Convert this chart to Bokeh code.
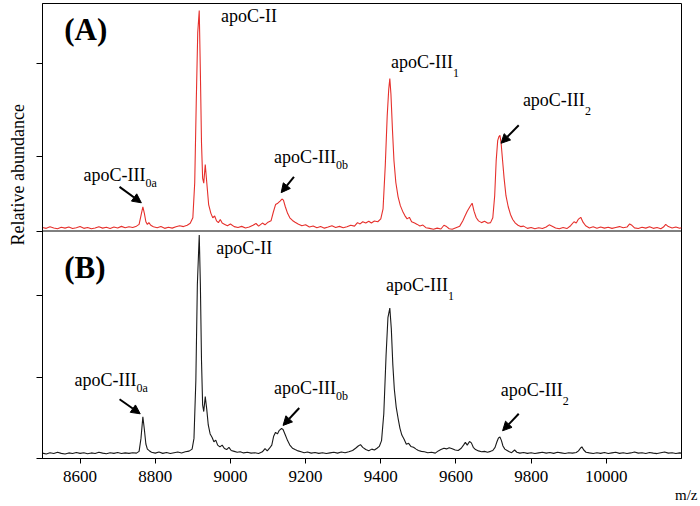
import math
from bokeh.plotting import figure
from bokeh.models import Range1d, FixedTicker, Span, Label, Arrow, NormalHead, Title
from bokeh.embed import file_html
from bokeh.resources import INLINE

# ---------------- data ----------------
# Panel (A): m/z and relative abundance (% of apoC-II peak), red trace
mz_a = [8500, 8510, 8520, 8530, 8540, 8550, 8560, 8570, 8580, 8590,
        8600, 8610, 8620, 8630, 8640, 8650, 8660, 8670, 8680, 8690,
        8700, 8710, 8720, 8730, 8740, 8750, 8757, 8762, 8767, 8771,
        8775, 8779, 8783, 8788, 8795, 8805, 8815, 8825, 8835, 8845,
        8855, 8865, 8875, 8885, 8893, 8900, 8905, 8909, 8913, 8917,
        8920, 8923, 8926, 8929, 8933, 8937, 8942, 8948, 8953, 8958,
        8963, 8968, 8973, 8978, 8985, 8992, 9000, 9010, 9020, 9030,
        9040, 9050, 9060, 9068, 9075, 9085, 9092, 9100, 9108, 9114,
        9120, 9126, 9132, 9137, 9141, 9146, 9152, 9158, 9165, 9172,
        9180, 9190, 9200, 9210, 9220, 9230, 9240, 9250, 9260, 9270,
        9280, 9290, 9300, 9310, 9320, 9330, 9338, 9345, 9352, 9360,
        9368, 9375, 9383, 9392, 9400, 9406, 9412, 9417, 9421, 9424,
        9427, 9431, 9435, 9440, 9446, 9452, 9458, 9464, 9470, 9476,
        9482, 9490, 9497, 9504, 9512, 9520, 9530, 9540, 9550, 9560,
        9568, 9575, 9582, 9590, 9600, 9610, 9618, 9624, 9630, 9637,
        9643, 9648, 9654, 9660, 9668, 9676, 9685, 9692, 9698, 9703,
        9707, 9711, 9714, 9717, 9720, 9724, 9728, 9733, 9739, 9745,
        9751, 9758, 9765, 9772, 9780, 9790, 9800, 9810, 9820, 9830,
        9840, 9848, 9856, 9865, 9875, 9885, 9895, 9905, 9914, 9920,
        9926, 9932, 9938, 9945, 9955, 9965, 9975, 9985, 9995, 10005,
        10015, 10025, 10035, 10045, 10055, 10062, 10068, 10075, 10085, 10095,
        10105, 10115, 10125, 10135, 10145, 10152, 10158, 10165, 10175, 10185,
        10195, 10200]
int_a = [1.6, 1.2, 1.9, 1.4, 1.0, 1.7, 1.3, 1.8, 1.1, 1.5,
         2.0, 1.2, 1.6, 1.0, 1.4, 1.9, 1.3, 1.7, 1.1, 1.8,
         1.4, 2.1, 1.5, 1.9, 1.6, 2.2, 3.0, 7.0, 10.9, 8.0,
         4.2, 3.0, 3.8, 2.6, 1.9, 1.5, 2.0, 1.2, 1.7, 1.3,
         1.9, 2.4, 2.0, 2.6, 3.5, 6.0, 22, 58, 90, 100,
         72, 40, 24, 21.7, 30.2, 22, 12, 8.0, 6.0, 6.8,
         4.6, 3.8, 5.2, 3.6, 3.0, 2.4, 3.2, 2.0, 1.6, 2.1,
         1.4, 1.8, 2.6, 3.4, 2.2, 3.6, 2.8, 4.0, 4.6, 8.5,
         12.0, 12.6, 13.6, 14.5, 14.0, 11.0, 8.0, 6.0, 4.8, 4.0,
         3.2, 2.4, 2.8, 1.8, 2.3, 1.5, 2.0, 1.3, 1.8, 2.4,
         1.6, 2.1, 1.5, 1.9, 2.6, 2.2, 3.8, 3.2, 4.2, 3.6,
         4.4, 3.6, 4.5, 4.2, 5.5, 10, 30, 52, 64, 69.2,
         62, 46, 32, 22, 15.5, 11.5, 9.0, 7.0, 5.5, 6.2,
         4.2, 3.6, 3.0, 2.3, 2.7, 1.5, 1.2, 0.8, 1.3, 0.9,
         2.6, 2.0, 1.0, 0.8, 1.5, 2.2, 4.5, 6.8, 9.0, 11.0,
         12.6, 9.0, 6.0, 4.6, 3.8, 4.4, 3.5, 3.8, 6.0, 16,
         32, 41, 42.7, 43.4, 40, 32, 24, 16, 11, 7.5,
         5.2, 3.6, 2.6, 2.0, 2.2, 1.2, 1.6, 1.0, 1.5, 1.1,
         1.8, 2.8, 2.2, 1.4, 1.0, 1.6, 1.1, 2.4, 4.2, 3.6,
         5.4, 6.2, 4.0, 2.4, 1.4, 1.9, 1.2, 1.8, 1.3, 1.7,
         1.2, 1.6, 2.0, 1.5, 1.8, 3.2, 2.6, 1.4, 1.1, 1.7,
         1.3, 1.9, 1.2, 1.6, 1.0, 1.8, 3.0, 2.0, 1.4, 1.8,
         1.2, 1.5]

# Panel (B): m/z and relative abundance (% of apoC-II peak), black trace
mz_b = [8500, 8510, 8520, 8530, 8540, 8550, 8560, 8570, 8580, 8590,
        8600, 8610, 8620, 8630, 8640, 8650, 8660, 8670, 8680, 8690,
        8700, 8710, 8720, 8730, 8740, 8750, 8757, 8762, 8767, 8771,
        8775, 8779, 8784, 8790, 8800, 8810, 8820, 8830, 8840, 8850,
        8860, 8870, 8880, 8890, 8898, 8903, 8908, 8912, 8917, 8920,
        8923, 8926, 8929, 8933, 8937, 8941, 8946, 8951, 8956, 8961,
        8966, 8972, 8978, 8984, 8990, 8996, 9002, 9010, 9018, 9026,
        9035, 9045, 9055, 9065, 9075, 9085, 9092, 9098, 9104, 9110,
        9115, 9120, 9125, 9130, 9136, 9140, 9146, 9152, 9158, 9165,
        9172, 9180, 9188, 9196, 9205, 9215, 9225, 9235, 9245, 9255,
        9265, 9275, 9285, 9295, 9305, 9315, 9325, 9333, 9340, 9346,
        9352, 9360, 9368, 9376, 9383, 9390, 9396, 9402, 9408, 9414,
        9419, 9424, 9428, 9432, 9436, 9441, 9446, 9451, 9456, 9462,
        9468, 9474, 9480, 9487, 9494, 9500, 9508, 9516, 9525, 9535,
        9545, 9553, 9560, 9568, 9575, 9582, 9590, 9598, 9606, 9614,
        9620, 9625, 9630, 9636, 9641, 9646, 9652, 9660, 9668, 9676,
        9684, 9692, 9698, 9704, 9709, 9713, 9717, 9721, 9725, 9730,
        9736, 9742, 9748, 9756, 9762, 9770, 9780, 9790, 9800, 9810,
        9820, 9830, 9840, 9850, 9860, 9870, 9880, 9890, 9900, 9910,
        9920, 9926, 9931, 9935, 9940, 9946, 9955, 9965, 9975, 9985,
        9995, 10005, 10015, 10025, 10035, 10045, 10055, 10065, 10075, 10085,
        10095, 10105, 10115, 10125, 10135, 10145, 10155, 10165, 10175, 10185,
        10195, 10200]
int_b = [2.4, 2.0, 2.6, 2.2, 2.8, 2.3, 2.0, 2.5, 2.2, 2.7,
         2.3, 2.6, 2.1, 2.5, 2.2, 2.8, 2.4, 2.1, 2.6, 2.3,
         2.7, 2.2, 2.5, 2.3, 2.6, 2.4, 3.2, 9.0, 18.7, 13.0,
         6.5, 4.2, 3.5, 2.8, 2.4, 2.9, 2.3, 2.7, 2.2, 2.6,
         2.9, 2.5, 3.0, 3.3, 4.2, 9.0, 35, 78, 100, 78,
         44, 24, 21, 27.7, 22, 15, 11, 9.5, 7.5, 8.2,
         6.0, 5.2, 6.0, 4.5, 4.0, 5.0, 3.6, 3.2, 2.8, 3.0,
         2.5, 2.8, 2.4, 2.6, 2.2, 3.0, 4.4, 3.4, 4.6, 6.0,
         10.0, 11.7, 11.0, 12.6, 13.4, 13.0, 10.5, 8.0, 6.0, 4.6,
         4.0, 3.4, 3.0, 2.6, 2.9, 2.4, 2.7, 2.3, 2.6, 2.2,
         2.5, 2.8, 2.4, 2.9, 2.6, 3.0, 3.6, 4.6, 5.6, 6.2,
         5.0, 4.0, 3.5, 4.2, 3.8, 4.6, 5.4, 8.0, 20, 46,
         63, 67.3, 58, 42, 31, 23, 18, 13.5, 10.5, 8.6,
         6.4, 6.8, 5.4, 5.0, 4.2, 3.6, 3.2, 3.0, 2.6, 2.8,
         2.4, 3.4, 4.0, 4.6, 4.3, 4.8, 4.4, 3.8, 3.6, 4.6,
         6.0, 7.2, 6.0, 7.6, 7.0, 5.0, 4.0, 3.4, 3.0, 3.2,
         2.8, 3.2, 3.6, 5.0, 7.5, 9.2, 9.6, 8.0, 5.6, 4.2,
         3.6, 3.0, 2.6, 3.8, 2.8, 2.4, 2.7, 2.3, 2.6, 2.2,
         2.5, 2.8, 2.4, 2.7, 2.3, 2.8, 2.5, 2.2, 2.6, 2.4,
         2.7, 3.4, 4.6, 5.2, 3.8, 2.8, 2.5, 2.2, 2.6, 2.3,
         2.7, 2.2, 2.5, 2.8, 2.3, 2.6, 2.2, 2.5, 2.9, 2.4,
         2.6, 2.2, 2.7, 2.4, 2.2, 2.6, 2.9, 2.4, 2.6, 2.2,
         2.5, 2.4]

assert len(mz_a) == len(int_a)
assert len(mz_b) == len(int_b)

x_ticks = [8600, 8800, 9000, 9200, 9400, 9600, 9800, 10000]
x_tick_labels = ["8600", "8800", "9000", "9200", "9400", "9600", "9800", "10000"]
y_ticks_a = [33.9, 76.0]          # tick marks of panel (A), in its own units
y_ticks_b = [0.0, 36.3, 73.1]     # tick marks of panel (B)

panel_names = ["(A)", "(B)"]
peak_base = ["apoC-III", "apoC-II", "apoC-III", "apoC-III", "apoC-III"]
peak_sub = ["0a", "", "0b", "1", "2"]

# ---------------- layout ----------------
X0, X1 = 8500, 10200
TOP_A = 103.2   # full scale of panel (A)
TOP_B = 101.8   # full scale of panel (B)
SERIF = "Liberation Serif"
RED = "#e6302c"

p = figure(width=700, height=506, x_range=Range1d(X0, X1),
           y_range=Range1d(0, 2 * TOP_B),
           output_backend="svg", toolbar_location=None,
           min_border_left=41, min_border_right=19,
           min_border_top=3, min_border_bottom=48)
p.extra_y_ranges = {"top": Range1d(-TOP_A, TOP_A)}

p.grid.visible = False
p.outline_line_color = "black"
p.outline_line_width = 1
p.background_fill_color = "white"
p.border_fill_color = "white"

# x axis
xa = p.xaxis[0]
xa.ticker = FixedTicker(ticks=x_ticks)
xa.major_label_overrides = {t: s for t, s in zip(x_ticks, x_tick_labels)}
xa.major_tick_out = 5
xa.major_tick_in = 0
xa.minor_tick_out = 0
xa.minor_tick_in = 0
xa.axis_line_color = "black"
xa.major_tick_line_color = "black"
xa.major_label_text_font = SERIF
xa.major_label_text_font_size = "17px"
xa.major_label_text_color = "black"
xa.major_label_standoff = 7

# y axis: tick marks only
ya = p.yaxis[0]
ticks_y = list(y_ticks_b) + [TOP_B] + [TOP_B + v * TOP_B / TOP_A for v in y_ticks_a]
ya.ticker = FixedTicker(ticks=ticks_y)
ya.major_label_overrides = {t: "" for t in ticks_y}
ya.major_tick_out = 6
ya.major_tick_in = 0
ya.minor_tick_out = 0
ya.minor_tick_in = 0
ya.major_label_standoff = 0
ya.axis_line_color = "black"
ya.major_tick_line_color = "black"

# y title, starting low in the frame so that it sits mostly beside panel (A)
p.add_layout(Title(text="Relative abundance", align="left", offset=213,
                   vertical_align="top",
                   text_font=SERIF, text_font_size="18px", text_font_style="normal",
                   text_color="black", standoff=14), "left")

# x title at the lower right corner
p.add_layout(Title(text="m/z", align="right", offset=-16, vertical_align="bottom",
                   text_font=SERIF, text_font_size="15px", text_font_style="normal",
                   text_color="black", standoff=0), "below")

# spectra
p.line(mz_a, int_a, y_range_name="top", line_color=RED, line_width=1.1)
p.line(mz_b, int_b, line_color="#1a1a1a", line_width=1.1)

# separator between the panels
p.add_layout(Span(location=TOP_B, dimension="width", line_color="black", line_width=1))

# panel letters
p.add_layout(Label(x=8558, y=83.3, y_range_name="top", text=panel_names[0],
                   text_font=SERIF, text_font_size="31px", text_font_style="bold",
                   text_color="black"))
p.add_layout(Label(x=8558, y=77.6, text=panel_names[1],
                   text_font=SERIF, text_font_size="31px", text_font_style="bold",
                   text_color="black"))

BASE_W = 62  # width in px of "apoC-III" at 18px

def peak_label(i, x, y, rng):
    kw = {} if rng is None else {"y_range_name": rng}
    p.add_layout(Label(x=x, y=y, text=peak_base[i], text_font=SERIF,
                       text_font_size="18px", text_color="black", **kw))
    if peak_sub[i]:
        p.add_layout(Label(x=x, y=y, x_offset=BASE_W, y_offset=-5, text=peak_sub[i],
                           text_font=SERIF, text_font_size="12px",
                           text_color="black", **kw))

def arrow(x0, y0, x1, y1, rng):
    kw = {} if rng is None else {"y_range_name": rng}
    p.add_layout(Arrow(end=NormalHead(size=9, fill_color="black", line_color="black"),
                       x_start=x0, y_start=y0, x_end=x1, y_end=y1,
                       line_color="black", line_width=2, **kw))

# panel (A) annotations
peak_label(0, 8609, 20.8, "top")
peak_label(1, 8975, 93.2, "top")
peak_label(2, 9116, 29.0, "top")
peak_label(3, 9427, 71.9, "top")
peak_label(4, 9778, 54.8, "top")
arrow(8705, 20.0, 8763, 12.8, "top")
arrow(9169, 24.6, 9135, 17.4, "top")
arrow(9767, 48.0, 9720, 39.8, "top")

# panel (B) annotations
peak_label(0, 8585, 30.5, None)
peak_label(1, 8962, 89.7, None)
peak_label(2, 9116, 26.9, None)
peak_label(3, 9414, 73.1, None)
peak_label(4, 9719, 26.0, None)
arrow(8705, 26.5, 8760, 20.0, None)
arrow(9183, 22.6, 9140, 14.8, None)
arrow(9767, 20.0, 9724, 12.4, None)

open("out.html", "w").write(file_html(p, INLINE))
